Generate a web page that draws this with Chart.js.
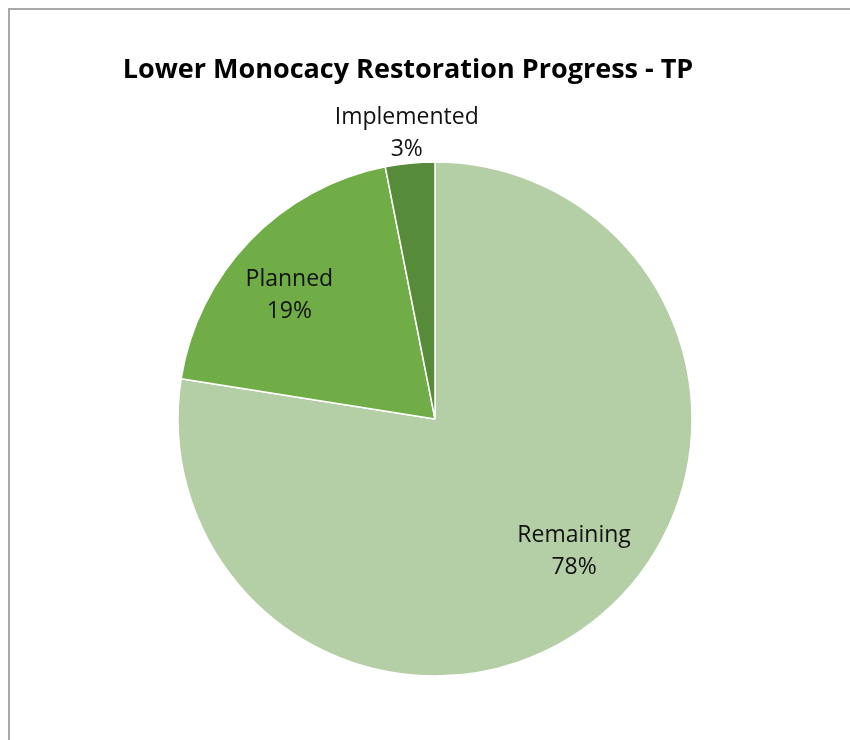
<!DOCTYPE html>
<html>
<head>
<meta charset="utf-8">
<script src="https://cdn.jsdelivr.net/npm/chart.js@4.4.0/dist/chart.umd.min.js"></script>
<style>
  html, body { margin: 0; padding: 0; background: #fff; }
  #wrap { position: absolute; left: 0; top: 0; width: 850px; height: 740px; }
  #frame { position: absolute; left: 8px; top: 8px; width: 900px; height: 800px;
           border-left: 2px solid #a9a9a9; border-top: 2px solid #a9a9a9; }
</style>
</head>
<body>
<div id="wrap">
  <div id="frame"></div>
  <canvas id="myChart" width="850" height="740"></canvas>
</div>
<script>
var chartTitle = 'Lower Monocacy Restoration Progress - TP';
var categories = ['Remaining', 'Planned', 'Implemented'];
var values = [77.5, 19.4, 3.1];
var sliceColors = ['#b4cea6', '#70ad47', '#568c39'];

// label placement: radius factor and small angle shift (deg) per slice
var labelRadius = [0.74, 0.75, 1.13];
var labelShift = [-6.5, -3, 0];

var total = values.reduce(function (a, b) { return a + b; }, 0);

var labelPlugin = {
    id: 'sliceLabels',
    afterDraw: function (chart) {
        var ctx = chart.ctx;
        ctx.save();
        // title
        ctx.fillStyle = '#000';
        ctx.font = 'bold 27px "Open Sans"';
        ctx.textAlign = 'center';
        ctx.textBaseline = 'middle';
        ctx.fillText(chartTitle, 408, 70);

        ctx.font = '23px "Open Sans"';
        ctx.fillStyle = '#111';
        var arcs = chart.getDatasetMeta(0).data;
        arcs.forEach(function (arc, i) {
            var p = arc.getProps(['x', 'y', 'startAngle', 'endAngle', 'outerRadius'], true);
            var mid = (p.startAngle + p.endAngle) / 2 + labelShift[i] * Math.PI / 180;
            var r = p.outerRadius * labelRadius[i];
            var cx = p.x + Math.cos(mid) * r;
            var cy = p.y + Math.sin(mid) * r + 3;
            var pct = Math.round(values[i] / total * 100) + '%';
            ctx.fillText(categories[i], cx, cy - 16);
            ctx.fillText(pct, cx, cy + 16);
        });
        ctx.restore();
    }
};

var ctx = document.getElementById('myChart').getContext('2d');
var chart = new Chart(ctx, {
    type: 'pie',
    data: {
        labels: categories,
        datasets: [{
            data: values,
            backgroundColor: sliceColors,
            borderColor: '#ffffff',
            borderWidth: 1.5,
            hoverOffset: 0,
            radius: 257
        }]
    },
    options: {
        responsive: false,
        animation: false,
        layout: { padding: { left: 20, right: 0, top: 98, bottom: 0 } },
        plugins: {
            legend: { display: false },
            tooltip: { enabled: false },
            title: { display: false }
        }
    },
    plugins: [labelPlugin]
});
</script>
</body>
</html>
